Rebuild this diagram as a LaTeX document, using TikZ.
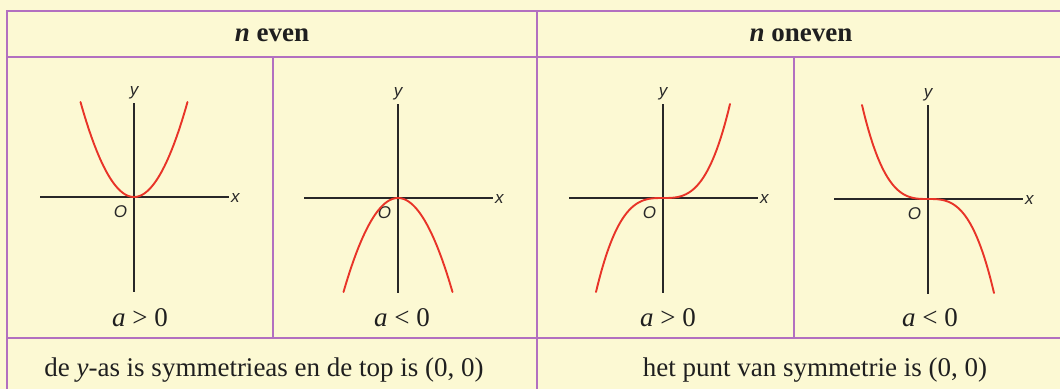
\documentclass[tikz,border=0pt]{standalone}
\usepackage{fontspec}
\usetikzlibrary{calc}
\setmainfont{Liberation Serif}
\newfontfamily\axfont{Liberation Sans}
\definecolor{bgcol}{RGB}{252,249,211}
\definecolor{gridcol}{RGB}{178,112,192}
\definecolor{curvecol}{RGB}{232,52,40}
\definecolor{axiscol}{RGB}{40,40,40}
\newcommand\myaxes[3]{%
  \coordinate (#1o) at (#2,#3);
  \draw[axisline] ($(#1o)+(-94,0)$) coordinate (#1xl) -- ($(#1o)+(95,0)$) coordinate (#1xr);
  \draw[axisline] ($(#1o)+(0,-94)$) coordinate (#1yt) -- ($(#1o)+(0,95)$) coordinate (#1yb);
  \node[axlabel, anchor=base west] (#1x) at ($(#1o)+(97,5)$) {x};
  \node[axlabel, anchor=base] (#1y) at ($(#1o)+(0,-102)$) {y};
  \node[axlabel, anchor=base] (#1O) at ($(#1o)+(-13.5,20)$) {O};
}
\begin{document}
\begin{tikzpicture}[x=1pt,y=-1pt,
  gridline/.style={draw=gridcol, line width=1.3pt},
  axisline/.style={draw=axiscol, line width=1.3pt},
  curve/.style={draw=curvecol, line width=1.9pt, line cap=round},
  axlabel/.style={inner sep=0pt, font=\axfont\itshape\fontsize{17}{19}\selectfont, text=axiscol},
  txt/.style={inner sep=0pt, font=\fontsize{27}{32}\selectfont, text=black!88},
]
\fill[bgcol] (0,0) rectangle (1060,389);
\useasboundingbox (0,0) rectangle (1060,389);
% table lines
\draw[gridline] (1060,11) -- (7,11) -- (7,389);
\draw[gridline] (7,57) -- (1060,57);
\draw[gridline] (7,338) -- (1060,338);
\draw[gridline] (537,11) -- (537,389);
\draw[gridline] (273,57) -- (273,338);
\draw[gridline] (794,57) -- (794,338);
% headers
\node[txt, anchor=base] (heven) at (272,41) {\textbf{\textit{n} even}};
\node[txt, anchor=base] (hodd) at (801,41) {\textbf{\textit{n} oneven}};
% graphs
\myaxes{a}{134}{197}
\myaxes{b}{398}{198}
\myaxes{c}{663}{198}
\myaxes{d}{928}{199}
\draw[curve] plot[domain=-53.5:53.5, samples=80] ({134+\x},{197-95*(\x/53.5)*(\x/53.5)});
\draw[curve] plot[domain=-54.5:54.5, samples=80] ({398+\x},{198+94*(\x/54.5)*(\x/54.5)});
\draw[curve] plot[domain=-67:67, samples=80] ({663+\x},{198-94*(\x/67)*(\x/67)*(\x/67)});
\draw[curve] plot[domain=-66:66, samples=80] ({928+\x},{199+94*(\x/66)*(\x/66)*(\x/66)});
% conditions
\node[txt, anchor=base] (ca) at (140,326) {\textit{a} > 0};
\node[txt, anchor=base] (cb) at (402,326) {\textit{a} < 0};
\node[txt, anchor=base] (cc) at (668,326) {\textit{a} > 0};
\node[txt, anchor=base] (cd) at (930,326) {\textit{a} < 0};
% bottom row
\node[txt, anchor=base] (beven) at (264,376) {de \textit{y}-as is symmetrieas en de top is (0, 0)};
\node[txt, anchor=base] (bodd) at (815,376) {het punt van symmetrie is (0, 0)};
\end{tikzpicture}
\end{document}
